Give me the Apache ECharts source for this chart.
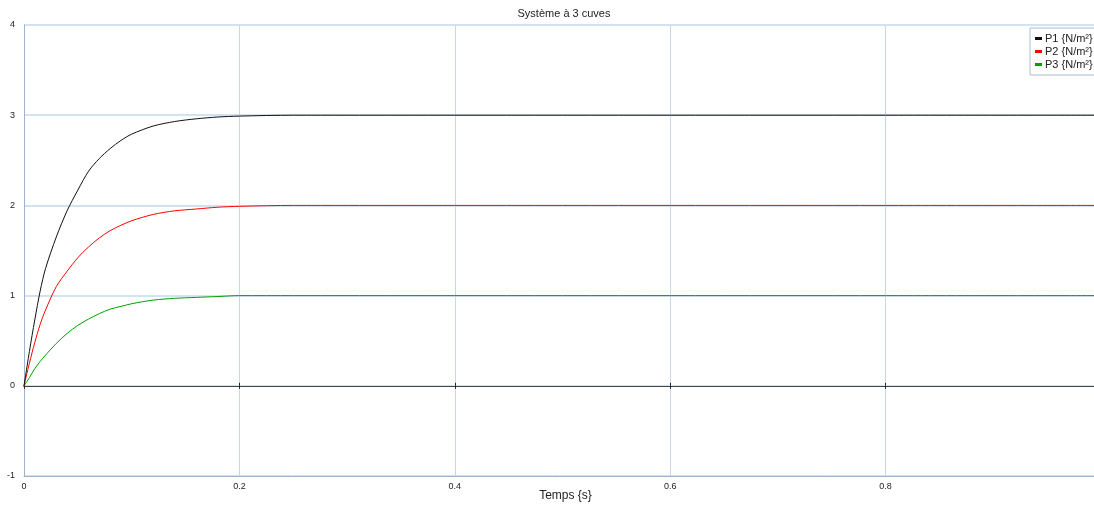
<!DOCTYPE html>
<html><head><meta charset="utf-8">
<script src="https://cdn.jsdelivr.net/npm/echarts@6/dist/echarts.min.js"></script>
<style>html,body{margin:0;padding:0;background:#fff}#c{width:1094px;height:505px}</style>
</head><body><div id="c"></div>
<script>
const times = [0, 0.005, 0.01, 0.015, 0.02, 0.03, 0.04, 0.05, 0.06, 0.07, 0.08, 0.09, 0.1, 0.12, 0.14, 0.16, 0.18, 0.2, 0.25, 0.3, 0.4, 0.6, 0.8, 1.0];
const p1 = [0, 0.38, 0.73, 1.05, 1.30, 1.65, 1.94, 2.17, 2.38, 2.52, 2.63, 2.72, 2.79, 2.88, 2.93, 2.96, 2.98, 2.99, 3.0, 3.0, 3.0, 3.0, 3.0, 3.0];
const p2 = [0, 0.25, 0.48, 0.68, 0.84, 1.10, 1.27, 1.42, 1.54, 1.64, 1.72, 1.78, 1.83, 1.90, 1.94, 1.96, 1.98, 1.99, 2.0, 2.0, 2.0, 2.0, 2.0, 2.0];
const p3 = [0, 0.09, 0.19, 0.27, 0.34, 0.47, 0.58, 0.67, 0.74, 0.80, 0.85, 0.88, 0.91, 0.95, 0.97, 0.98, 0.99, 1.0, 1.0, 1.0, 1.0, 1.0, 1.0, 1.0];
const seriesNames = ['P1 {N/m²}', 'P2 {N/m²}', 'P3 {N/m²}'];
const xTicks = [0, 0.2, 0.4, 0.6, 0.8];
const yTicks = [-1, 0, 1, 2, 3, 4];

const font = 'Liberation Sans, Arial, sans-serif';
const pairs = a => times.map((t, i) => [t, a[i]]);
const chart = echarts.init(document.getElementById('c'), null, {renderer: 'canvas'});
const colors = ['#111111', '#ff0000', '#00a000'];
chart.setOption({
  animation: false,
  title: {text: 'Système à 3 cuves', left: 559, top: 3, textAlign: 'center',
    textStyle: {fontFamily: font, fontSize: 11, fontWeight: 'normal', color: '#222'}},
  legend: {orient: 'vertical', left: 1030, top: 28, itemGap: 2, itemWidth: 7, itemHeight: 3,
    icon: 'rect', padding: [5, 10, 5, 5], borderColor: '#a9bed3', borderWidth: 1, backgroundColor: '#fff',
    textStyle: {fontFamily: font, fontSize: 11, color: '#222', padding: [0, 0, 0, -2]},
    data: seriesNames},
  grid: {left: 24, top: 25, bottom: 29, width: 1077, containLabel: false, outerBoundsMode: 'none'},
  xAxis: [{
    type: 'value', min: 0, max: 1, interval: 0.2, position: 'bottom',
    name: 'Temps {s}', nameLocation: 'middle', nameGap: 14, nameMoveOverlap: false,
    nameTextStyle: {fontFamily: font, fontSize: 12, color: '#222', padding: [0, 0, 0, 6]},
    axisLine: {onZero: false, lineStyle: {color: '#9db3cb', width: 1}},
    axisTick: {show: false},
    axisLabel: {fontFamily: font, fontSize: 9, color: '#222', margin: 6,
      formatter: v => xTicks.includes(Math.round(v * 10) / 10) ? String(Math.round(v * 10) / 10) : ''},
    splitLine: {show: true, lineStyle: {color: '#c6d8ea', width: 1}}
  }, {
    type: 'value', min: 0, max: 1, interval: 0.2, position: 'top',
    axisLine: {onZero: true, onZeroAxisIndex: 0, lineStyle: {color: '#444', width: 1}},
    axisTick: {show: true, inside: false, length: 3, lineStyle: {color: '#222'}},
    axisLabel: {show: false}, splitLine: {show: false}
  }, {
    type: 'value', min: 0, max: 1, interval: 0.2, position: 'bottom',
    axisLine: {onZero: true, onZeroAxisIndex: 1, lineStyle: {color: '#444', width: 1}},
    axisTick: {show: true, inside: false, length: 3, lineStyle: {color: '#222'}},
    axisLabel: {show: false}, splitLine: {show: false}
  }],
  yAxis: [{
    type: 'value', min: -1, max: 4, interval: 1,
    axisLine: {show: true, onZero: false, lineStyle: {color: '#9db3cb', width: 1}},
    axisTick: {show: false},
    axisLabel: {fontFamily: font, fontSize: 9, color: '#222', margin: 9,
      formatter: v => yTicks.includes(v) ? String(v) : ''},
    splitLine: {show: true, lineStyle: {color: '#d3e2f1', width: 2}}
  }, {
    type: 'value', min: -1, max: 4, interval: 1, position: 'right',
    axisLine: {show: false, onZero: false}, axisTick: {show: false},
    axisLabel: {show: false}, splitLine: {show: false}
  }],
  series: [p1, p2, p3].map((d, i) => ({
    name: seriesNames[i], type: 'line', data: pairs(d), smooth: 0.3,
    showSymbol: false, symbol: 'none',
    color: colors[i], lineStyle: {color: colors[i], width: 1}, z: 5 - i
  }))
});
</script></body></html>
